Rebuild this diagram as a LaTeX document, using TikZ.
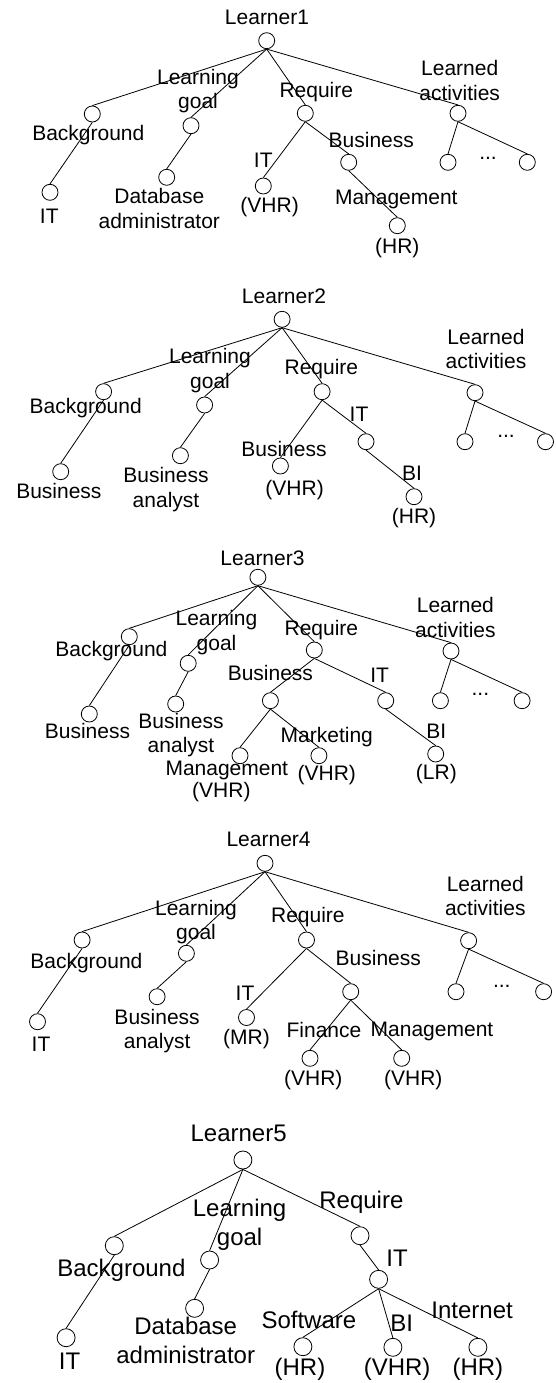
\documentclass[tikz,border=0pt]{standalone}
\usepackage{fontspec}
\setmainfont{Liberation Sans}
\usepackage{tikz}

\begin{document}
\begin{tikzpicture}[x=1pt, y=-1pt, line width=0.8pt]
    \tikzset{point/.style={draw, circle, inner sep=0pt, minimum size=16pt},
             bigpoint/.style={point, minimum size=18pt},
             lbl/.style={inner sep=0pt, align=center, font=\fontsize{21}{24.5}\selectfont},
             biglbl/.style={lbl, font=\fontsize{24}{29}\selectfont}}
    \useasboundingbox (0,0) rectangle (556,1383);
    % Learner1
    \node[point] (r1) at (266.7,40.7) {};
    \node[point] (bg1) at (92.3,114) {};
    \node[point] (bg1a) at (50,192.3) {};
    \node[point] (lg1) at (191,125.7) {};
    \node[point] (lg1a) at (166.7,177.3) {};
    \node[point] (rq1) at (305.3,113.3) {};
    \node[point] (rq1a) at (263.3,186) {};
    \node[point] (rq1b) at (348.7,162.3) {};
    \node[point] (rq1c) at (397.3,225.7) {};
    \node[point] (la1) at (458,113.3) {};
    \node[point] (la1a) at (448,162.3) {};
    \node[point] (la1b) at (527.3,162.3) {};
    \node[lbl] (t-r1) at (267,17.3) {Learner1};
    \node[lbl] (t-bg1) at (88.3,135) {Background};
    \node[lbl] (t-bg1a) at (49.3,216.7) {IT};
    \node[lbl] (t-lg1) at (198,91.2) {Learning\\goal};
    \node[lbl] (t-lg1a) at (159.3,208.3) {Database\\administrator};
    \node[lbl] (t-rq1) at (316.3,91.7) {Require};
    \node[lbl] (t-rq1a) at (263.3,160) {IT};
    \node[lbl] (v-rq1a) at (269.6,207.3) {(VHR)};
    \node[lbl] (t-rq1b) at (371.3,140) {Business};
    \node[lbl] (t-rq1c) at (396.3,199) {Management};
    \node[lbl] (v-rq1c) at (397.3,248.3) {(HR)};
    \node[lbl] (t-la1) at (459.7,80.5) {Learned\\activities};
    \node[lbl] (d-la1) at (488,158) {...};
    % Learner2
    \node[point] (r2) at (282.1,319.3) {};
    \node[point] (bg2) at (103.6,391.7) {};
    \node[point] (bg2a) at (60.7,471.7) {};
    \node[point] (lg2) at (204.6,405) {};
    \node[point] (lg2a) at (180.4,455.7) {};
    \node[point] (rq2) at (322.1,391.7) {};
    \node[point] (rq2a) at (280.4,466) {};
    \node[point] (rq2b) at (366,441.7) {};
    \node[point] (rq2c) at (414,496.7) {};
    \node[point] (la2) at (475,392.7) {};
    \node[point] (la2a) at (465,441.7) {};
    \node[point] (la2b) at (545.5,441.7) {};
    \node[lbl] (t-r2) at (284,296.7) {Learner2};
    \node[lbl] (t-bg2) at (85.7,408.3) {Background};
    \node[lbl] (t-bg2a) at (58.9,490.7) {Business};
    \node[lbl] (t-lg2) at (210,370.5) {Learning\\goal};
    \node[lbl] (t-lg2a) at (166,489.5) {Business\\analyst};
    \node[lbl] (t-rq2) at (321.4,369.3) {Require};
    \node[lbl] (t-rq2a) at (284,449) {Business};
    \node[lbl] (v-rq2a) at (294.6,490) {(VHR)};
    \node[lbl] (t-rq2b) at (359,414) {IT};
    \node[lbl] (t-rq2c) at (412,473) {BI};
    \node[lbl] (v-rq2c) at (414,518) {(HR)};
    \node[lbl] (t-la2) at (486,349) {Learned\\activities};
    \node[lbl] (d-la2) at (506,436) {...};
    % Learner3
    \node[point] (r3) at (257.9,577.3) {};
    \node[point] (bg3) at (129.3,636.7) {};
    \node[point] (bg3a) at (89.3,714) {};
    \node[point] (lg3) at (188.2,663.3) {};
    \node[point] (lg3a) at (175.7,704) {};
    \node[point] (rq3) at (314.3,650) {};
    \node[point] (rq3a) at (270.4,700.7) {};
    \node[point] (rq3b) at (385.7,700.7) {};
    \node[point] (rq3c) at (240,755.7) {};
    \node[point] (rq3d) at (318.9,755.7) {};
    \node[point] (rq3e) at (435.7,754) {};
    \node[point] (la3) at (451,651) {};
    \node[point] (la3a) at (440.4,700.7) {};
    \node[point] (la3b) at (522.1,700.7) {};
    \node[lbl] (t-r3) at (262.5,558.3) {Learner3};
    \node[lbl] (t-bg3) at (111.4,650.7) {Background};
    \node[lbl] (t-bg3a) at (87.5,730.7) {Business};
    \node[lbl] (t-lg3) at (216.5,632.8) {Learning\\goal};
    \node[lbl] (t-lg3a) at (181,735) {Business\\analyst};
    \node[lbl] (t-rq3) at (321.4,630) {Require};
    \node[lbl] (t-rq3a) at (270.4,673.3) {Business};
    \node[lbl] (t-rq3b) at (379.6,675) {IT};
    \node[lbl] (t-rq3c) at (226.8,770) {Management};
    \node[lbl] (v-rq3c) at (221.4,792.3) {(VHR)};
    \node[lbl] (t-rq3d) at (326.8,736.7) {Marketing};
    \node[lbl] (v-rq3d) at (326.8,775) {(VHR)};
    \node[lbl] (t-rq3e) at (436.4,731.7) {BI};
    \node[lbl] (v-rq3e) at (436.4,774) {(LR)};
    \node[lbl] (t-la3) at (455.4,617.5) {Learned\\activities};
    \node[lbl] (d-la3) at (480.4,694) {...};
    % Learner4
    \node[point] (r4) at (265,863.3) {};
    \node[point] (bg4) at (82.1,940) {};
    \node[point] (bg4a) at (37.5,1021.7) {};
    \node[point] (lg4) at (186.4,953.3) {};
    \node[point] (lg4a) at (157.1,996.7) {};
    \node[point] (rq4) at (306.5,940) {};
    \node[point] (rq4a) at (246.5,1017.5) {};
    \node[point] (rq4b) at (350.7,991.7) {};
    \node[point] (rq4c) at (310,1058.3) {};
    \node[point] (rq4d) at (401.7,1058.3) {};
    \node[point] (la4) at (468.6,940.7) {};
    \node[point] (la4a) at (456,991.7) {};
    \node[point] (la4b) at (543.6,991.7) {};
    \node[lbl] (t-r4) at (268.6,839.3) {Learner4};
    \node[lbl] (t-bg4) at (86.4,962.7) {Background};
    \node[lbl] (t-bg4a) at (41,1044) {IT};
    \node[lbl] (t-lg4) at (196,922) {Learning\\goal};
    \node[lbl] (t-lg4a) at (157.1,1031) {Business\\analyst};
    \node[lbl] (t-rq4) at (307.9,916.7) {Require};
    \node[lbl] (t-rq4a) at (245,993) {IT};
    \node[lbl] (v-rq4a) at (246.5,1039) {(MR)};
    \node[lbl] (t-rq4b) at (378.3,958.3) {Business};
    \node[lbl] (t-rq4c) at (324,1030) {Finance};
    \node[lbl] (v-rq4c) at (313.3,1080) {(VHR)};
    \node[lbl] (t-rq4d) at (432,1031) {Management};
    \node[lbl] (v-rq4d) at (413.3,1080) {(VHR)};
    \node[lbl] (t-la4) at (485.3,896) {Learned\\activities};
    \node[lbl] (d-la4) at (501.8,986) {...};
    % Learner5
    \node[bigpoint] (r5) at (242.9,1160) {};
    \node[bigpoint] (bg5) at (114.3,1245.7) {};
    \node[bigpoint] (bg5a) at (66.1,1337.7) {};
    \node[bigpoint] (lg5) at (209.6,1260) {};
    \node[bigpoint] (lg5a) at (194.6,1308.3) {};
    \node[bigpoint] (rq5) at (360,1235.7) {};
    \node[bigpoint] (rq5a) at (378.6,1279.3) {};
    \node[bigpoint] (rq5b) at (302.9,1346.7) {};
    \node[bigpoint] (rq5c) at (392.9,1347.3) {};
    \node[bigpoint] (rq5d) at (477.9,1347.3) {};
    \node[biglbl] (t-r5) at (238.6,1133.3) {Learner5};
    \node[biglbl] (t-bg5) at (121.4,1270) {Background};
    \node[biglbl] (t-bg5a) at (69.6,1361.7) {IT};
    \node[biglbl] (t-lg5) at (239.6,1225) {Learning\\goal};
    \node[biglbl] (t-lg5a) at (185.7,1340) {Database\\administrator};
    \node[biglbl] (t-rq5) at (361.4,1202.7) {Require};
    \node[biglbl] (t-rq5a) at (397.1,1258.3) {IT};
    \node[biglbl] (t-rq5b) at (308.9,1320) {Software};
    \node[biglbl] (v-rq5b) at (300,1369.3) {(HR)};
    \node[biglbl] (t-rq5c) at (401.8,1323.3) {BI};
    \node[biglbl] (v-rq5c) at (397.1,1369.3) {(VHR)};
    \node[biglbl] (t-rq5d) at (472.1,1310) {Internet};
    \node[biglbl] (v-rq5d) at (477.9,1369.3) {(HR)};
    % edges
    \foreach \a/\b in {r1/bg1, r1/lg1, r1/rq1, r1/la1, bg1/bg1a, lg1/lg1a,
                       rq1/rq1a, rq1/rq1b, rq1b/rq1c, la1/la1a, la1/la1b,
                       r2/bg2, r2/lg2, r2/rq2, r2/la2, bg2/bg2a, lg2/lg2a,
                       rq2/rq2a, rq2/rq2b, rq2b/rq2c, la2/la2a, la2/la2b,
                       r3/bg3, r3/lg3, r3/rq3, r3/la3, bg3/bg3a, lg3/lg3a,
                       rq3/rq3a, rq3/rq3b, rq3a/rq3c, rq3a/rq3d, rq3b/rq3e,
                       la3/la3a, la3/la3b,
                       r4/bg4, r4/lg4, r4/rq4, r4/la4, bg4/bg4a, lg4/lg4a,
                       rq4/rq4a, rq4/rq4b, rq4b/rq4c, rq4b/rq4d, la4/la4a, la4/la4b,
                       r5/bg5, r5/lg5, r5/rq5, bg5/bg5a, lg5/lg5a, rq5/rq5a,
                       rq5a/rq5b, rq5a/rq5c, rq5a/rq5d} {
        \draw (\a.south) -- (\b.north);
    }
\end{tikzpicture}
\end{document}
